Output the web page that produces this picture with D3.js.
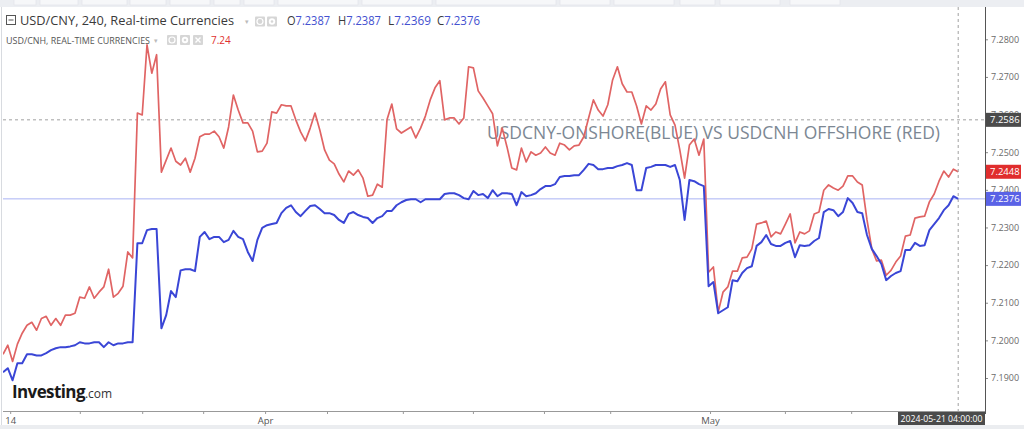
<!DOCTYPE html>
<html>
<head>
<meta charset="utf-8">
<script src="https://cdn.jsdelivr.net/npm/d3@7"></script>
<style>
  body { margin: 0; background: #fff; overflow: hidden; }
  svg { display: block; }
  text { font-family: "Open Sans", "DejaVu Sans", sans-serif; }
</style>
</head>
<body>
<svg id="chart" width="1024" height="429"></svg>
<script>
// USD/CNH offshore (red), one value per 4h bar
const cnh = [7.1963,7.1987,7.1944,7.1990,7.2019,7.2040,7.2048,7.2027,7.2058,7.2064,
  7.2040,7.2058,7.2040,7.2067,7.2067,7.2072,7.2115,7.2112,7.2142,7.2112,
  7.2128,7.2142,7.2189,7.2115,7.2125,7.2144,7.2235,7.2219,7.2604,7.2599,
  7.2785,7.2710,7.2759,7.2447,7.2479,7.2511,7.2476,7.2466,7.2484,7.2447,
  7.2484,7.2541,7.2548,7.2548,7.2556,7.2541,7.2511,7.2567,7.2652,7.2612,
  7.2578,7.2578,7.2556,7.2501,7.2503,7.2524,7.2607,7.2604,7.2626,7.2623,
  7.2623,7.2586,7.2554,7.2530,7.2564,7.2604,7.2559,7.2506,7.2479,7.2469,
  7.2442,7.2421,7.2450,7.2439,7.2453,7.2431,7.2383,7.2386,7.2415,7.2407,
  7.2586,7.2628,7.2562,7.2551,7.2559,7.2567,7.2538,7.2564,7.2596,7.2639,
  7.2671,7.2690,7.2586,7.2591,7.2591,7.2575,7.2591,7.2727,7.2724,7.2663,
  7.2644,7.2623,7.2602,7.2517,7.2564,7.2514,7.2458,7.2453,7.2511,7.2474,
  7.2501,7.2492,7.2498,7.2514,7.2498,7.2492,7.2524,7.2519,7.2506,7.2517,
  7.2519,7.2541,7.2591,7.2639,7.2612,7.2596,7.2626,7.2692,7.2727,7.2682,
  7.2660,7.2660,7.2623,7.2575,7.2623,7.2612,7.2628,7.2668,7.2687,7.2599,
  7.2572,7.2506,7.2431,7.2519,7.2535,7.2492,7.2535,7.2181,7.2195,7.2075,
  7.2128,7.2142,7.2184,7.2184,7.2219,7.2221,7.2243,7.2309,7.2312,7.2317,
  7.2275,7.2288,7.2283,7.2309,7.2336,7.2259,7.2288,7.2283,7.2291,7.2336,
  7.2341,7.2399,7.2413,7.2405,7.2399,7.2410,7.2437,7.2437,7.2421,7.2413,
  7.2320,7.2243,7.2211,7.2213,7.2173,7.2186,7.2208,7.2224,7.2277,7.2280,
  7.2325,7.2328,7.2330,7.2368,7.2389,7.2423,7.2450,7.2434,7.2455,7.2448];

// USD/CNY onshore (blue)
const cny = [7.1915,7.1926,7.1894,7.1939,7.1939,7.1963,7.1963,7.1960,7.1960,7.1966,
  7.1974,7.1979,7.1982,7.1982,7.1984,7.1987,7.1995,7.1992,7.1992,7.1995,
  7.1995,7.1982,7.1995,7.1987,7.1992,7.1992,7.1995,7.1995,7.2258,7.2258,
  7.2293,7.2296,7.2296,7.2032,7.2067,7.2131,7.2115,7.2186,7.2189,7.2189,
  7.2184,7.2275,7.2288,7.2269,7.2275,7.2275,7.2261,7.2267,7.2291,7.2275,
  7.2269,7.2235,7.2211,7.2267,7.2299,7.2306,7.2309,7.2312,7.2338,7.2352,
  7.2359,7.2341,7.2330,7.2344,7.2357,7.2359,7.2349,7.2338,7.2338,7.2333,
  7.2320,7.2312,7.2336,7.2341,7.2333,7.2328,7.2325,7.2312,7.2325,7.2330,
  7.2344,7.2344,7.2359,7.2367,7.2373,7.2375,7.2375,7.2367,7.2375,7.2375,
  7.2375,7.2375,7.2389,7.2391,7.2391,7.2386,7.2378,7.2375,7.2397,7.2386,
  7.2389,7.2378,7.2399,7.2383,7.2391,7.2391,7.2389,7.2359,7.2394,7.2383,
  7.2386,7.2391,7.2402,7.2410,7.2410,7.2415,7.2434,7.2437,7.2437,7.2439,
  7.2439,7.2453,7.2469,7.2466,7.2455,7.2455,7.2458,7.2458,7.2463,7.2466,
  7.2471,7.2466,7.2399,7.2399,7.2458,7.2461,7.2466,7.2466,7.2466,7.2461,
  7.2466,7.2426,7.2320,7.2426,7.2423,7.2415,7.2410,7.2144,7.2155,7.2072,
  7.2080,7.2088,7.2160,7.2157,7.2179,7.2192,7.2197,7.2251,7.2261,7.2280,
  7.2256,7.2251,7.2251,7.2259,7.2264,7.2221,7.2253,7.2251,7.2253,7.2264,
  7.2272,7.2341,7.2349,7.2346,7.2330,7.2341,7.2378,7.2365,7.2341,7.2338,
  7.2280,7.2243,7.2224,7.2203,7.2160,7.2171,7.2179,7.2184,7.2240,7.2240,
  7.2259,7.2251,7.2253,7.2293,7.2309,7.2325,7.2346,7.2359,7.2383,7.2376];

const yTicks = [7.19, 7.20, 7.21, 7.22, 7.23, 7.24, 7.25, 7.26, 7.27, 7.28];
// x ticks in bar-index units
const xTickPos = [1.5, 16, 29, 41.7, 54.6, 67.5, 83.3, 97.9, 112.7, 126.5, 147.3, 162.9, 176.7];
const xTickLabels = ["14", "", "", "", "Apr", "", "", "", "", "", "May", "", ""];

const hLine = 7.2586;
const lastCny = 7.2376;
const lastCnh = 7.2448;
const crossDate = "2024-05-21 04:00:00";
const ohlc = [["O", "7.2387"], ["H", "7.2387"], ["L", "7.2369"], ["C", "7.2376"]];

const W = 1024, H = 429;
const plot = {left: 3, right: 985, top: 7, bottom: 411};

const svg = d3.select("#chart");

const x = d3.scaleLinear().domain([0, cnh.length - 1]).range([3, 958.2]);
const y = d3.scaleLinear().domain([7.19, 7.28]).range([378, 39.3]);

// frame / toolbars
svg.append("rect").attr("x", 0).attr("y", 0).attr("width", W).attr("height", 7).attr("fill", "#eceef2");
[[14, 22], [40, 38], [82, 45], [130, 36], [170, 40], [214, 26], [244, 30], [278, 80], [362, 70], [436, 120],
 [560, 50], [614, 60], [680, 35], [720, 60], [790, 50], [1125, 60], [1190, 60]].forEach(d => {
    svg.append("rect").attr("x", d[0]).attr("y", -1).attr("width", d[1]).attr("height", 6)
        .attr("fill", "#f6f7f9").attr("stroke", "#e0e2e6").attr("stroke-width", 0.6);
});
svg.append("rect").attr("x", 0).attr("y", 425).attr("width", W).attr("height", 4).attr("fill", "#ebedf0");
svg.append("line").attr("x1", 1.5).attr("x2", 1.5).attr("y1", 7).attr("y2", 425)
    .attr("stroke", "#d8dbe0");

svg.append("defs").append("clipPath").attr("id", "clip")
    .append("rect").attr("x", plot.left).attr("y", plot.top)
    .attr("width", plot.right - plot.left).attr("height", plot.bottom - plot.top);

const g = svg.append("g").attr("clip-path", "url(#clip)");

// reference lines
g.append("line").attr("x1", plot.left).attr("x2", plot.right)
    .attr("y1", y(hLine)).attr("y2", y(hLine))
    .attr("stroke", "#a0a0a0").attr("stroke-dasharray", "3,3");
g.append("line").attr("x1", plot.left).attr("x2", plot.right)
    .attr("y1", y(lastCny)).attr("y2", y(lastCny))
    .attr("stroke", "#aab2f4").attr("stroke-width", 1);

// annotation
g.append("text").attr("x", 487).attr("y", 139)
    .attr("font-size", 17.5).attr("fill", "#7c8793")
    .attr("textLength", 453).attr("lengthAdjust", "spacingAndGlyphs")
    .text("USDCNY-ONSHORE(BLUE) VS USDCNH OFFSHORE (RED)");

const line = d3.line().x((d, i) => x(i)).y(d => y(d));

g.append("path").datum(cnh).attr("d", line)
    .attr("fill", "none").attr("stroke", "#e06464").attr("stroke-width", 1.7)
    .attr("stroke-linejoin", "round");
g.append("path").datum(cny).attr("d", line)
    .attr("fill", "none").attr("stroke", "#3a46d6").attr("stroke-width", 2)
    .attr("stroke-linejoin", "round");

// crosshair
svg.append("line").attr("x1", x(cnh.length - 1)).attr("x2", x(cnh.length - 1))
    .attr("y1", plot.top).attr("y2", plot.bottom)
    .attr("stroke", "#a0a0a0").attr("stroke-dasharray", "3,3");

// axes
const yAxis = svg.append("g").attr("transform", `translate(${plot.right},0)`)
    .call(d3.axisRight(y).tickValues(yTicks).tickFormat(d3.format(".4f")).tickSize(3).tickPadding(3));
yAxis.select(".domain").remove();
yAxis.selectAll(".tick line").attr("stroke", "#888");
yAxis.selectAll(".tick text").attr("fill", "#6a6a6a").attr("font-size", 9)
    .attr("font-family", "Open Sans, DejaVu Sans, sans-serif");
svg.append("line").attr("x1", plot.right + 0.5).attr("x2", plot.right + 0.5)
    .attr("y1", plot.top).attr("y2", 414).attr("stroke", "#555").attr("stroke-width", 1);

const xAxis = svg.append("g").attr("transform", `translate(0,${plot.bottom})`)
    .call(d3.axisBottom(x).tickValues(xTickPos).tickFormat((d, i) => xTickLabels[i]).tickSize(3).tickPadding(3));
xAxis.select(".domain").attr("stroke", "#999").attr("d", `M${plot.left},0.5H${plot.right}`);
xAxis.selectAll(".tick line").attr("stroke", "#999");
xAxis.selectAll(".tick text").attr("fill", "#555").attr("font-size", 9.5)
    .attr("font-family", "Open Sans, DejaVu Sans, sans-serif");

// price badges on right axis
function badge(v, fill) {
    const yy = y(v);
    svg.append("rect").attr("x", plot.right + 1).attr("y", yy - 7).attr("width", 35).attr("height", 14)
        .attr("fill", fill);
    svg.append("text").attr("x", plot.right + 5).attr("y", yy + 3.3).attr("font-size", 9.5)
        .attr("fill", "#fff").text(d3.format(".4f")(v));
}
badge(hLine, "#4b4b4b");
badge(lastCnh, "#e02d2d");
badge(lastCny, "#5a62e6");

// date badge
svg.append("rect").attr("x", 898).attr("y", 412).attr("width", 87).attr("height", 13).attr("fill", "#4b4b4b");
svg.append("text").attr("x", 900.5).attr("y", 422).attr("font-size", 9.5).attr("fill", "#fff")
    .attr("textLength", 82).attr("lengthAdjust", "spacingAndGlyphs").text(crossDate);

// legend line 1
const lg = svg.append("g");
lg.append("rect").attr("x", 6.5).attr("y", 15.5).attr("width", 9).attr("height", 9)
    .attr("fill", "none").attr("stroke", "#555").attr("stroke-width", 1);
lg.append("line").attr("x1", 8.5).attr("x2", 13.5).attr("y1", 20).attr("y2", 20).attr("stroke", "#555");
lg.append("text").attr("x", 20).attr("y", 25).attr("font-size", 13.5).attr("fill", "#3a3a3a")
    .attr("textLength", 214).attr("lengthAdjust", "spacingAndGlyphs")
    .text("USD/CNY, 240, Real-time Currencies");
lg.append("text").attr("x", 245).attr("y", 23.5).attr("font-size", 7).attr("fill", "#bbb").text("▾");

function iconBox(px, py, kind) {
    lg.append("rect").attr("x", px).attr("y", py).attr("width", 10).attr("height", 10).attr("rx", 1)
        .attr("fill", "#d6d6d6");
    if (kind === "eye") {
        lg.append("circle").attr("cx", px + 5).attr("cy", py + 5).attr("r", 3)
            .attr("fill", "none").attr("stroke", "#fff").attr("stroke-width", 1.2);
    } else if (kind === "gear") {
        lg.append("circle").attr("cx", px + 5).attr("cy", py + 5).attr("r", 3.2).attr("fill", "#fff");
        lg.append("circle").attr("cx", px + 5).attr("cy", py + 5).attr("r", 1.3).attr("fill", "#d6d6d6");
    } else {
        lg.append("path").attr("d", `M${px + 2.5},${py + 2.5}L${px + 7.5},${py + 7.5}M${px + 7.5},${py + 2.5}L${px + 2.5},${py + 7.5}`)
            .attr("stroke", "#fff").attr("stroke-width", 1.4);
    }
}
iconBox(255, 16.5, "eye");
iconBox(267, 16.5, "gear");

const ohlcX = [287, 338, 388, 437];
ohlc.forEach((d, i) => {
    const t = lg.append("text").attr("x", ohlcX[i]).attr("y", 25).attr("font-size", 12.5)
        .attr("textLength", 43).attr("lengthAdjust", "spacingAndGlyphs");
    t.append("tspan").attr("fill", "#3a3a3a").text(d[0]);
    t.append("tspan").attr("fill", "#4350d0").text(d[1]);
});

// legend line 2
lg.append("text").attr("x", 6).attr("y", 43.5).attr("font-size", 8.6).attr("fill", "#555")
    .attr("textLength", 144).attr("lengthAdjust", "spacingAndGlyphs")
    .text("USD/CNH, REAL-TIME CURRENCIES");
lg.append("text").attr("x", 154).attr("y", 42.5).attr("font-size", 7).attr("fill", "#bbb").text("▾");
iconBox(167, 35, "eye");
iconBox(180, 35, "gear");
iconBox(193, 35, "x");
lg.append("text").attr("x", 211).attr("y", 44).attr("font-size", 10).attr("fill", "#e03030").text("7.24");

// watermark logo
const logo = svg.append("text").attr("x", 12).attr("y", 397.5).attr("font-size", 17)
    .attr("font-family", "Roboto, Liberation Sans, sans-serif");
logo.append("tspan").attr("font-weight", 700).attr("fill", "#1a1a1a").attr("letter-spacing", -0.6).text("Investing");
logo.append("tspan").attr("font-size", 12).attr("fill", "#333").text(".com");
</script>
</body>
</html>
